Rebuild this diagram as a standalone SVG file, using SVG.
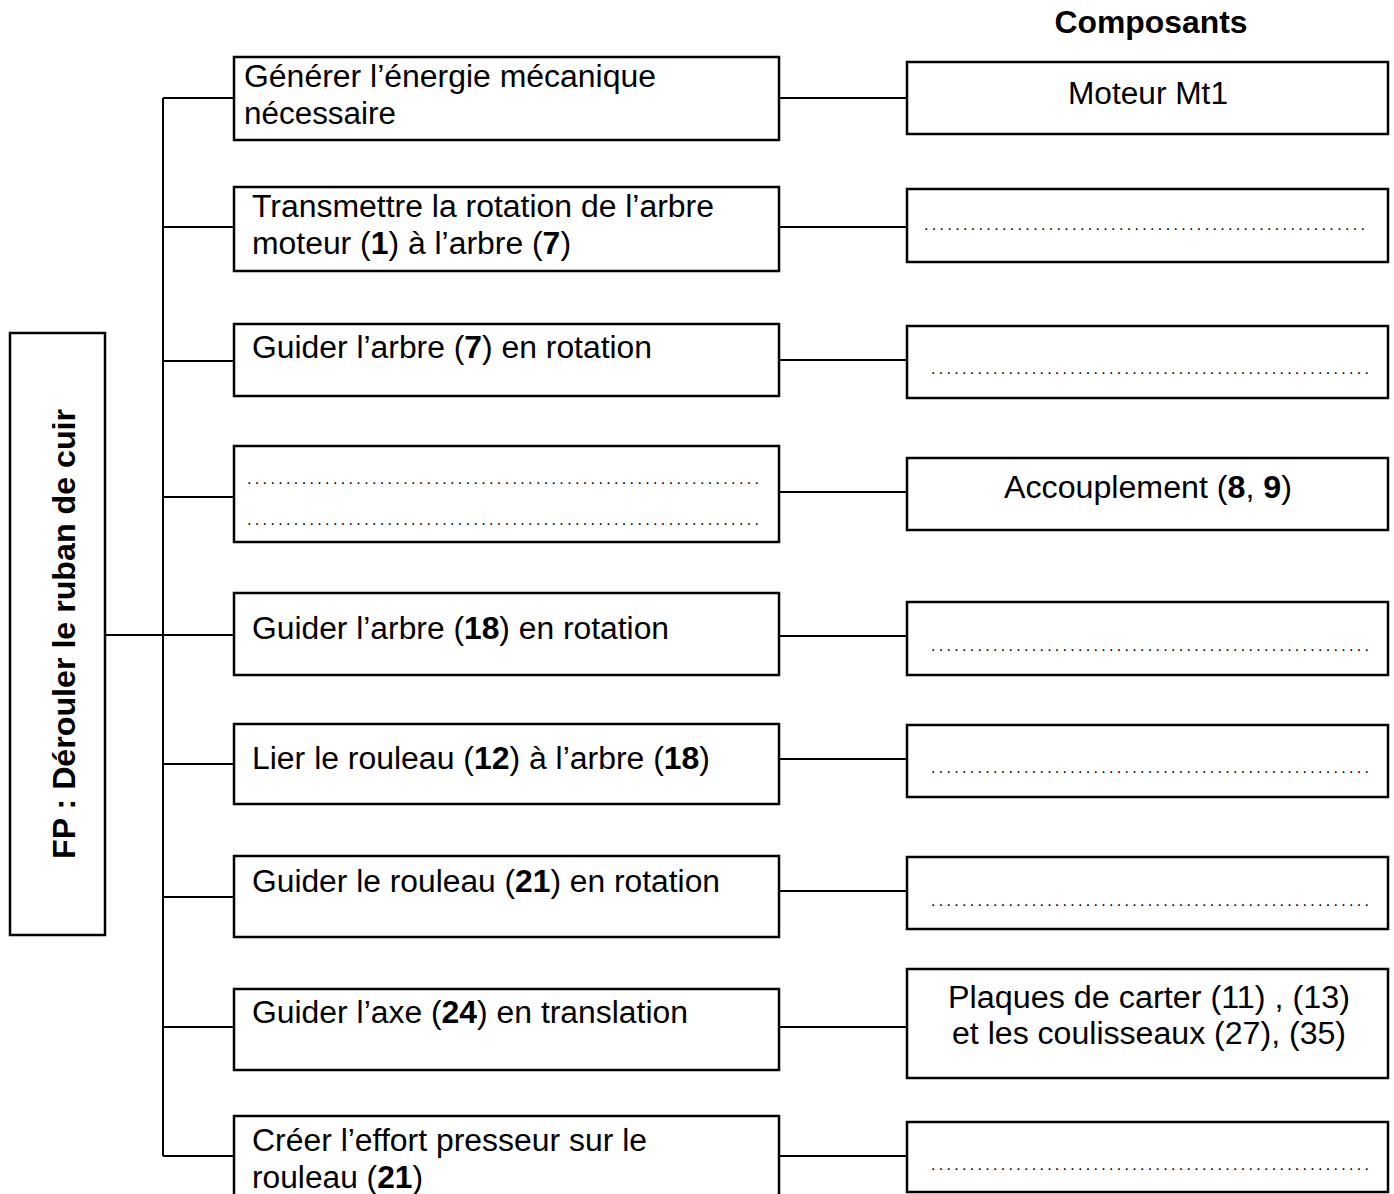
<svg xmlns="http://www.w3.org/2000/svg" width="1394" height="1194" viewBox="0 0 1394 1194">
<style>
.box{fill:#fff;stroke:#000;stroke-width:2.5}
.ln{stroke:#000;stroke-width:2;fill:none}
.t{font-family:"Liberation Sans",Arial,sans-serif;font-size:31px;fill:#000}
.c{text-anchor:middle}
.b{font-weight:bold}
.d{font-family:"Liberation Sans",Arial,sans-serif;font-size:16px;fill:#000}
</style>
<rect width="1394" height="1194" fill="#fff"/>
<g id="connectors">
<line class="ln" x1="163" y1="98" x2="163" y2="1156"/>
<line class="ln" x1="105" y1="635" x2="234" y2="635"/>
<line class="ln" x1="163" y1="98" x2="234" y2="98"/>
<line class="ln" x1="163" y1="227" x2="234" y2="227"/>
<line class="ln" x1="163" y1="361" x2="234" y2="361"/>
<line class="ln" x1="163" y1="497" x2="234" y2="497"/>
<line class="ln" x1="163" y1="764" x2="234" y2="764"/>
<line class="ln" x1="163" y1="897" x2="234" y2="897"/>
<line class="ln" x1="163" y1="1027" x2="234" y2="1027"/>
<line class="ln" x1="163" y1="1156" x2="234" y2="1156"/>
<line class="ln" x1="779" y1="98" x2="907" y2="98"/>
<line class="ln" x1="779" y1="227" x2="907" y2="227"/>
<line class="ln" x1="779" y1="360" x2="907" y2="360"/>
<line class="ln" x1="779" y1="492" x2="907" y2="492"/>
<line class="ln" x1="779" y1="636" x2="907" y2="636"/>
<line class="ln" x1="779" y1="759" x2="907" y2="759"/>
<line class="ln" x1="779" y1="891" x2="907" y2="891"/>
<line class="ln" x1="779" y1="1027" x2="907" y2="1027"/>
<line class="ln" x1="779" y1="1156" x2="907" y2="1156"/>
</g>
<g id="title">
<text class="t b c" x="1151" y="33" textLength="193" lengthAdjust="spacingAndGlyphs">Composants</text>
</g>
<g id="fp">
<rect class="box" x="10" y="333" width="95" height="602"/>
<text class="t b c" font-size="31" transform="translate(75,634) rotate(-90)" x="0" y="0" textLength="450" lengthAdjust="spacingAndGlyphs">FP : Dérouler le ruban de cuir</text>
</g>
<g id="f1">
<rect class="box" x="234" y="57" width="545" height="83"/>
<text class="t" x="244" y="87" textLength="412" lengthAdjust="spacingAndGlyphs">Générer l’énergie mécanique</text>
<text class="t" x="244" y="124" textLength="152" lengthAdjust="spacingAndGlyphs">nécessaire</text>
</g>
<g id="f2">
<rect class="box" x="234" y="187" width="545" height="84"/>
<text class="t" x="252" y="217" textLength="462" lengthAdjust="spacingAndGlyphs">Transmettre la rotation de l’arbre</text>
<text class="t" x="252" y="254" textLength="319" lengthAdjust="spacingAndGlyphs">moteur (<tspan class="b">1</tspan>) à l’arbre (<tspan class="b">7</tspan>)</text>
</g>
<g id="f3">
<rect class="box" x="234" y="324" width="545" height="72"/>
<text class="t" x="252" y="358" textLength="400" lengthAdjust="spacingAndGlyphs">Guider l’arbre (<tspan class="b">7</tspan>) en rotation</text>
</g>
<g id="f4">
<rect class="box" x="234" y="446" width="545" height="96"/>
<text class="d" x="247" y="484" textLength="512" lengthAdjust="spacing">..................................................................</text>
<text class="d" x="247" y="525" textLength="512" lengthAdjust="spacing">..................................................................</text>
</g>
<g id="f5">
<rect class="box" x="234" y="593" width="545" height="82"/>
<text class="t" x="252" y="639" textLength="417" lengthAdjust="spacingAndGlyphs">Guider l’arbre (<tspan class="b">18</tspan>) en rotation</text>
</g>
<g id="f6">
<rect class="box" x="234" y="724" width="545" height="80"/>
<text class="t" x="252" y="769" textLength="458" lengthAdjust="spacingAndGlyphs">Lier le rouleau (<tspan class="b">12</tspan>) à l’arbre (<tspan class="b">18</tspan>)</text>
</g>
<g id="f7">
<rect class="box" x="234" y="856" width="545" height="81"/>
<text class="t" x="252" y="892" textLength="468" lengthAdjust="spacingAndGlyphs">Guider le rouleau (<tspan class="b">21</tspan>) en rotation</text>
</g>
<g id="f8">
<rect class="box" x="234" y="989" width="545" height="81"/>
<text class="t" x="252" y="1023" textLength="436" lengthAdjust="spacingAndGlyphs">Guider l’axe (<tspan class="b">24</tspan>) en translation</text>
</g>
<g id="f9">
<rect class="box" x="234" y="1116" width="545" height="90"/>
<text class="t" x="252" y="1151" textLength="395" lengthAdjust="spacingAndGlyphs">Créer l’effort presseur sur le</text>
<text class="t" x="252" y="1188" textLength="171" lengthAdjust="spacingAndGlyphs">rouleau (<tspan class="b">21</tspan>)</text>
</g>
<g id="c1">
<rect class="box" x="907" y="62" width="481" height="72"/>
<text class="t c" x="1148" y="104" textLength="160" lengthAdjust="spacingAndGlyphs">Moteur Mt1</text>
</g>
<g id="c2">
<rect class="box" x="907" y="189" width="481" height="73"/>
<text class="d" x="924" y="230" textLength="441" lengthAdjust="spacing">.........................................................</text>
</g>
<g id="c3">
<rect class="box" x="907" y="326" width="481" height="72"/>
<text class="d" x="931" y="374" textLength="438" lengthAdjust="spacing">.........................................................</text>
</g>
<g id="c4">
<rect class="box" x="907" y="458" width="481" height="72"/>
<text class="t c" x="1148" y="498" textLength="288" lengthAdjust="spacingAndGlyphs">Accouplement (<tspan class="b">8</tspan>, <tspan class="b">9</tspan>)</text>
</g>
<g id="c5">
<rect class="box" x="907" y="602" width="481" height="73"/>
<text class="d" x="931" y="651" textLength="438" lengthAdjust="spacing">.........................................................</text>
</g>
<g id="c6">
<rect class="box" x="907" y="725" width="481" height="72"/>
<text class="d" x="931" y="773" textLength="438" lengthAdjust="spacing">.........................................................</text>
</g>
<g id="c7">
<rect class="box" x="907" y="857" width="481" height="72"/>
<text class="d" x="931" y="906" textLength="438" lengthAdjust="spacing">.........................................................</text>
</g>
<g id="c8">
<rect class="box" x="907" y="969" width="481" height="109"/>
<text class="t c" x="1149" y="1008" textLength="402" lengthAdjust="spacingAndGlyphs">Plaques de carter (11) , (13)</text>
<text class="t c" x="1149" y="1044" textLength="394" lengthAdjust="spacingAndGlyphs">et les coulisseaux (27), (35)</text>
</g>
<g id="c9">
<rect class="box" x="907" y="1122" width="481" height="70"/>
<text class="d" x="931" y="1170" textLength="438" lengthAdjust="spacing">.........................................................</text>
</g>
</svg>
